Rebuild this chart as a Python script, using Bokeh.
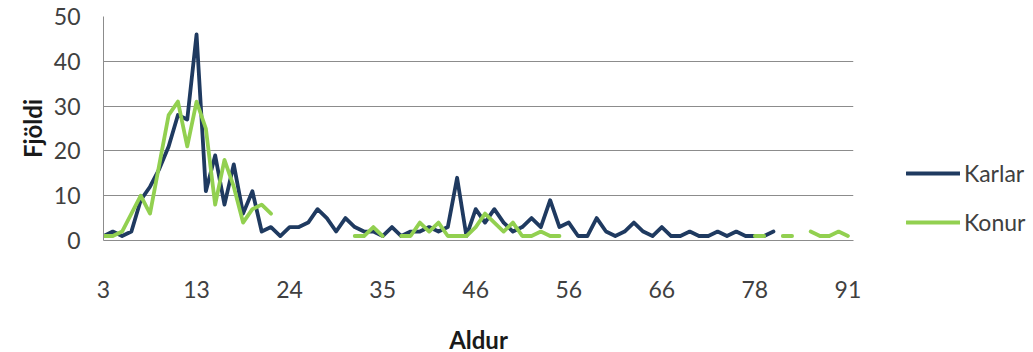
import numpy as np
from bokeh.plotting import figure
from bokeh.models import Range1d, FixedTicker, Legend, LegendItem, ColumnDataSource
from bokeh.embed import file_html
from bokeh.resources import INLINE

nan = float("nan")

ages = [3, 4, 5, 6, 7, 8, 9, 10, 11, 12, 13,
        14, 15, 16, 17, 18, 19, 20, 21, 22,
        24, 25, 26, 27, 28, 29, 30, 31, 32, 34, 35,
        36, 37, 38, 39, 40, 41, 42, 44, 45, 46,
        47, 48, 49, 50, 51, 52, 53, 54, 55, 56,
        57, 58, 59, 60, 61, 62, 63, 64, 65, 66,
        67, 68, 69, 70, 71, 72, 73, 75, 77, 78,
        79, 80, 81, 82, 84, 86, 87, 89, 90, 91]

karlar = [1, 2, 1, 2, 9, 12, 16, 21, 28, 27, 46,
          11, 19, 8, 17, 6, 11, 2, 3, 1,
          3, 3, 4, 7, 5, 2, 5, 3, 2, 2, 1,
          3, 1, 2, 2, 3, 2, 3, 14, 1, 7,
          4, 7, 4, 2, 3, 5, 3, 9, 3, 4,
          1, 1, 5, 2, 1, 2, 4, 2, 1, 3,
          1, 1, 2, 1, 1, 2, 1, 2, 1, 1,
          1, 2, nan, nan, nan, nan, nan, nan, nan, nan]

konur = [1, 1, 2, 6, 10, 6, 17, 28, 31, 21, 31,
         25, 8, 18, 12, 4, 7, 8, 6, nan,
         nan, nan, nan, nan, nan, nan, nan, 1, 1, 3, 1,
         nan, 1, 1, 4, 2, 4, 1, 1, 1, 3,
         6, 4, 2, 4, 1, 1, 2, 1, 1, nan,
         nan, nan, nan, nan, nan, nan, nan, nan, nan, nan,
         nan, nan, nan, nan, nan, nan, nan, nan, nan, 1,
         1, nan, 1, 1, nan, 2, 1, 1, 2, 1]

series_names = ["Karlar", "Konur"]
colors = ["#1F3A60", "#92D050"]
y_ticks = [0, 10, 20, 30, 40, 50]
x_tick_idx = [0, 10, 20, 30, 40, 50, 60, 70, 80]

idx = list(range(len(ages)))
src = ColumnDataSource(dict(x=idx, karlar=karlar, konur=konur))

FONT = "Lato"

p = figure(frame_width=750, frame_height=224,
           min_border_left=103, min_border_right=10,
           min_border_top=16, min_border_bottom=100,
           x_range=Range1d(0, 80.6), y_range=Range1d(0, 50),
           output_backend="svg", toolbar_location=None)
p.outline_line_color = None
p.background_fill_color = "white"
p.border_fill_color = "white"

r1 = p.line("x", "karlar", source=src, line_color=colors[0], line_width=3.8,
            line_join="round", line_cap="round")
r2 = p.line("x", "konur", source=src, line_color=colors[1], line_width=3.8,
            line_join="round", line_cap="round")

p.xgrid.grid_line_color = None
p.ygrid.grid_line_color = "#8C8C8C"
p.ygrid.grid_line_width = 1

p.yaxis.ticker = FixedTicker(ticks=y_ticks)
p.xaxis.ticker = FixedTicker(ticks=x_tick_idx)
p.xaxis.major_label_overrides = {i: str(ages[i]) for i in x_tick_idx}

for ax in (p.xaxis[0], p.yaxis[0]):
    ax.axis_line_color = "#8C8C8C"
    ax.axis_line_width = 1
    ax.major_tick_line_color = None
    ax.minor_tick_line_color = None
    ax.major_tick_out = 0
    ax.major_tick_in = 0
    ax.major_label_text_font = FONT
    ax.major_label_text_font_size = "23px"
    ax.major_label_text_color = "#404040"
    ax.axis_label_text_font = FONT
    ax.axis_label_text_font_size = "24px"
    ax.axis_label_text_font_style = "bold"
    ax.axis_label_text_color = "#1a1a1a"

p.yaxis.axis_label = "Fjöldi"
p.xaxis.axis_label = "Aldur"
p.yaxis.major_label_standoff = 23
p.yaxis.axis_label_standoff = 4
p.xaxis.major_label_standoff = 40
p.xaxis.axis_label_standoff = 24

legend = Legend(items=[LegendItem(label=series_names[0], renderers=[r1]),
                       LegendItem(label=series_names[1], renderers=[r2])],
                location=(53, 4), orientation="vertical",
                glyph_width=54, glyph_height=24, label_height=24,
                label_standoff=4, spacing=21, padding=0, margin=0,
                border_line_color=None, background_fill_alpha=0,
                label_text_font=FONT, label_text_font_size="23px",
                label_text_color="#404040")
p.add_layout(legend, "right")

open("out.html", "w").write(file_html(p, INLINE))
